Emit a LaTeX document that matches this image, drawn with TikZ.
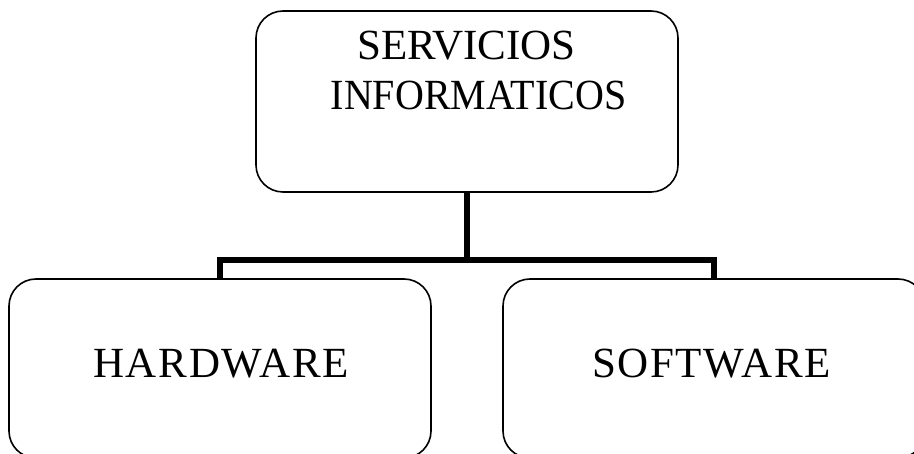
\documentclass[tikz,border=0pt]{standalone}
\usepackage{fontspec}
\setmainfont{Liberation Serif}
\newfontfamily\spacedserif[LetterSpace=4]{Liberation Serif}
\begin{document}
\begin{tikzpicture}[x=1pt,y=-1pt,
  boxnode/.style={draw=black, line width=1.6pt, rounded corners=27pt, fill=white,
                  inner sep=0pt, minimum width=422pt},
  lbl/.style={inner sep=0pt, anchor=base, font=\fontsize{43pt}{50pt}\selectfont},
  conn/.style={draw=black, line width=6.5pt, line join=miter}]
  \useasboundingbox (0,0) rectangle (914,454);

  % junction of the tree connector
  \coordinate (j) at (467,260);

  % boxes
  \node[boxnode, minimum height=181pt] (top) at (467,101.5) {};
  \node[boxnode, minimum height=179pt] (hw) at (220,368.5) {};
  \node[boxnode, minimum height=179pt] (sw) at (714,368.5) {};

  % connectors
  \draw[conn] (top.south) -- (j);
  \draw[conn] (hw.north) |- (j) -| (sw.north);

  % texts
  \node[lbl] (t1) at (466.5,60) {SERVICIOS};
  \node[lbl] (t2) at (478.5,110) {\scalebox{0.93}[1]{INFORMATICOS}};
  \node[lbl, font=\fontsize{43pt}{50pt}\spacedserif] (t3) at (221,378) {HARDWARE};
  \node[lbl, font=\fontsize{43pt}{50pt}\spacedserif] (t4) at (711.5,378) {SOFTWARE};
\end{tikzpicture}
\end{document}
